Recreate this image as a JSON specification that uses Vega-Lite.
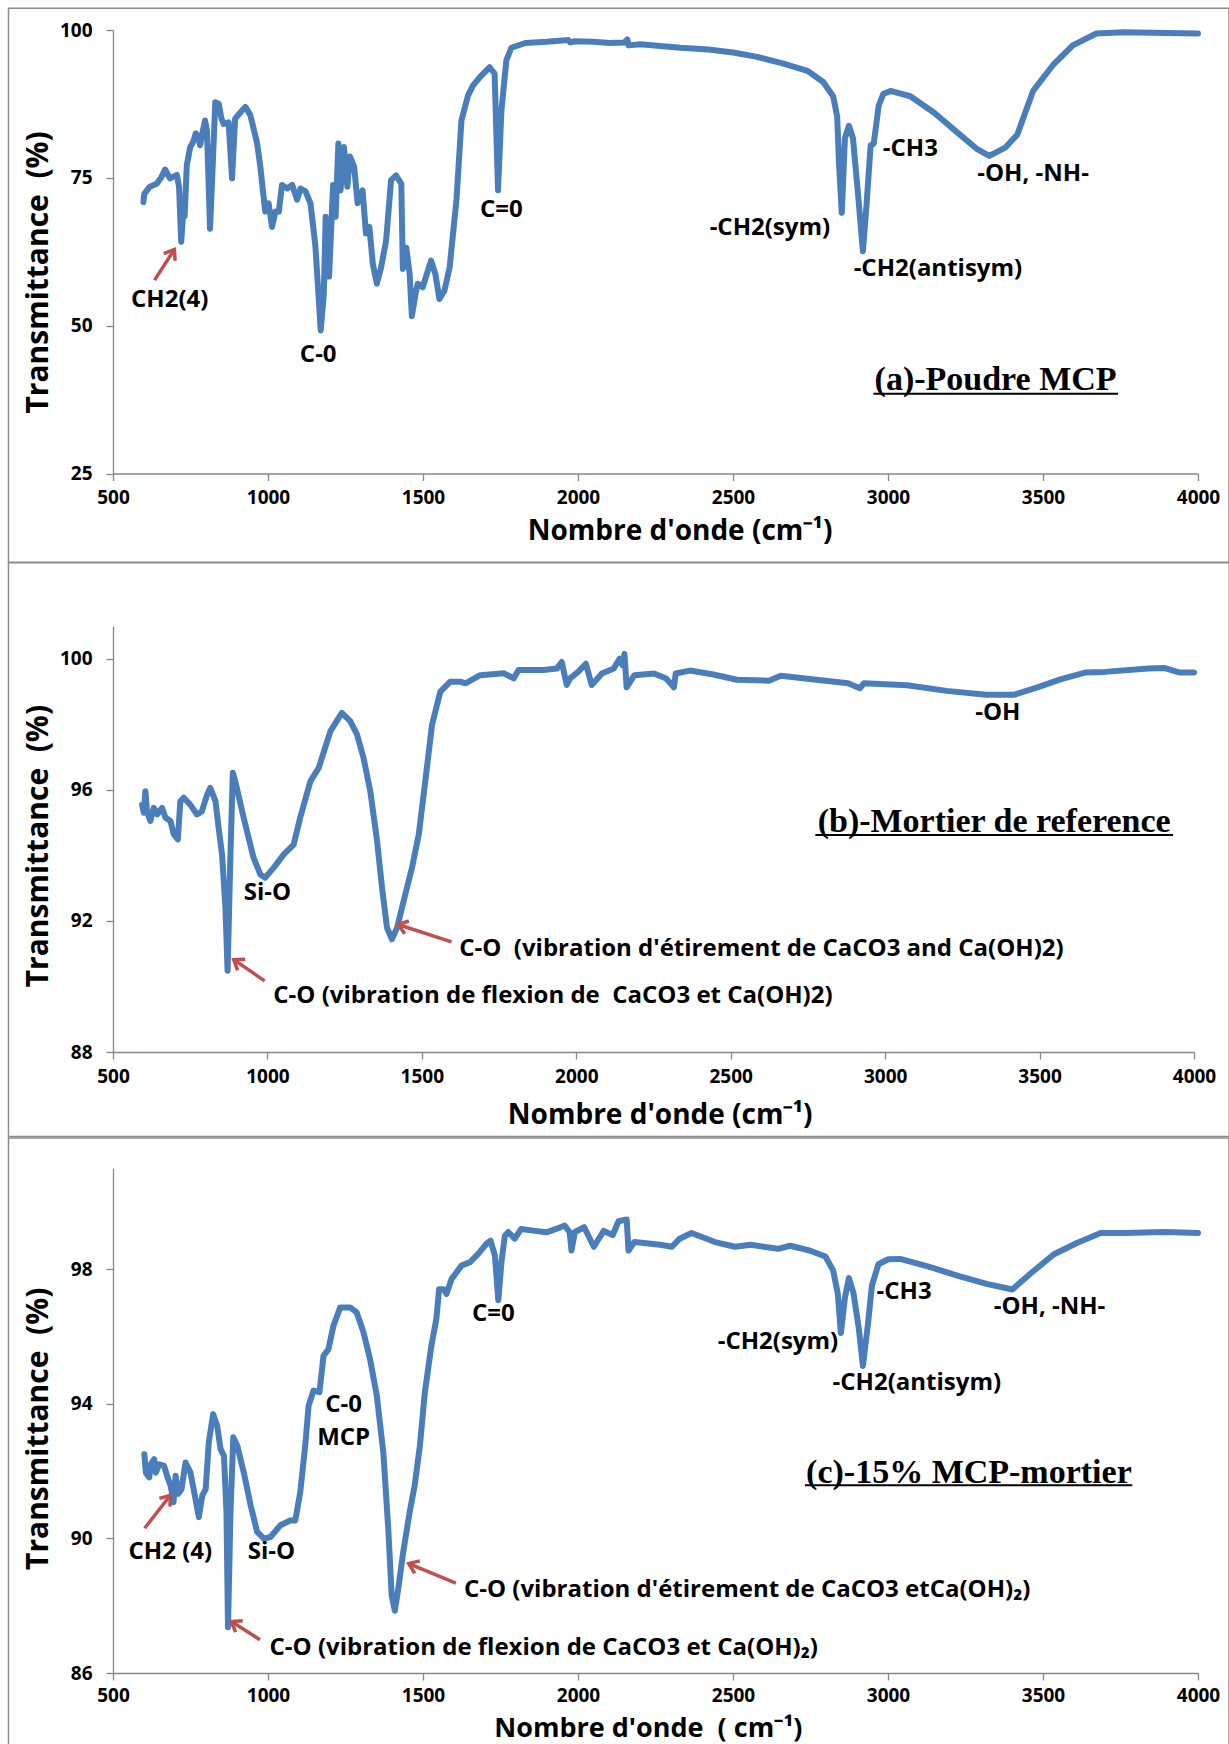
{
 "$schema": "https://vega.github.io/schema/vega-lite/v6.json",
 "padding": {"left": 7, "top": 7, "right": 0, "bottom": 0},
 "background": "white",
 "spacing": -1,
 "config": {
  "view": {"stroke": null},
  "font": "Open Sans",
  "axis": {"grid": false, "domainColor": "#878787", "tickColor": "#878787", "domainWidth": 1.3, "tickWidth": 1.3, "tickSize": 7, "labelFont": "Open Sans", "labelFontWeight": "bold", "labelFontSize": 19, "labelColor": "#000", "titleFont": "Open Sans", "titleFontWeight": "bold", "titleColor": "#000", "zindex": 1},
  "axisX": {"labelPadding": 8, "titleFontSize": 28, "titleBaseline": "middle", "titleAlign": "center", "labelFlush": false},
  "axisY": {"labelPadding": 14, "titleFontSize": 30, "titleBaseline": "middle", "titleAngle": -90, "titleAlign": "center"}
 },
 "datasets": {
  "a": [
   {"x":598,"y":70.9},{"x":601,"y":72.3},{"x":619,"y":73.5},{"x":641,"y":74.0},{"x":655,"y":75.0},{"x":668,"y":76.4},{"x":684,"y":74.9},{"x":706,"y":75.5},{"x":713,"y":73.5},{"x":720,"y":64.2},{"x":727,"y":69.5},{"x":731,"y":68.5},{"x":738,"y":77.1},{"x":749,"y":80.2},{"x":758,"y":81.0},{"x":767,"y":82.5},{"x":775,"y":82.0},{"x":781,"y":80.5},{"x":790,"y":83.0},{"x":797,"y":84.7},{"x":803,"y":83.0},{"x":813,"y":66.4},{"x":820,"y":75.0},{"x":830,"y":87.8},{"x":841,"y":87.5},{"x":850,"y":85.0},{"x":857,"y":84.1},{"x":873,"y":84.4},{"x":884,"y":74.9},{"x":894,"y":85.0},{"x":910,"y":86.0},{"x":927,"y":87.0},{"x":943,"y":85.6},{"x":965,"y":80.8},{"x":975,"y":77.0},{"x":981,"y":74.1},{"x":991,"y":69.3},{"x":1002,"y":70.7},{"x":1013,"y":66.7},{"x":1024,"y":69.3},{"x":1035,"y":69.3},{"x":1045,"y":73.8},{"x":1062,"y":73.2},{"x":1078,"y":73.8},{"x":1094,"y":71.3},{"x":1105,"y":73.2},{"x":1121,"y":72.7},{"x":1137,"y":70.7},{"x":1153,"y":63.4},{"x":1170,"y":49.2},{"x":1180,"y":55.4},{"x":1186,"y":68.4},{"x":1197,"y":58.3},{"x":1210,"y":73.8},{"x":1218,"y":68.4},{"x":1227,"y":80.8},{"x":1234,"y":72.9},{"x":1245,"y":80.2},{"x":1256,"y":73.5},{"x":1264,"y":78.6},{"x":1278,"y":76.9},{"x":1289,"y":70.7},{"x":1305,"y":72.9},{"x":1316,"y":65.6},{"x":1327,"y":66.7},{"x":1338,"y":60.5},{"x":1351,"y":57.1},{"x":1365,"y":59.9},{"x":1381,"y":64.4},{"x":1397,"y":74.6},{"x":1413,"y":75.4},{"x":1430,"y":74.0},{"x":1435,"y":59.6},{"x":1446,"y":63.2},{"x":1457,"y":58.7},{"x":1464,"y":51.6},{"x":1476,"y":55.4},{"x":1483,"y":57.1},{"x":1499,"y":56.5},{"x":1526,"y":61.0},{"x":1540,"y":58.7},{"x":1553,"y":54.5},{"x":1569,"y":55.9},{"x":1586,"y":59.9},{"x":1608,"y":71.3},{"x":1624,"y":84.7},{"x":1645,"y":88.9},{"x":1661,"y":90.6},{"x":1688,"y":92.3},{"x":1715,"y":93.7},{"x":1731,"y":92.6},{"x":1742,"y":72.9},{"x":1753,"y":86.4},{"x":1769,"y":94.9},{"x":1785,"y":97.0},{"x":1830,"y":97.8},{"x":1900,"y":98.0},{"x":1969,"y":98.3},{"x":1975,"y":97.9},{"x":1990,"y":98.1},{"x":2050,"y":98.0},{"x":2102,"y":97.8},{"x":2150,"y":97.9},{"x":2159,"y":98.4},{"x":2163,"y":97.4},{"x":2200,"y":97.6},{"x":2331,"y":97.0},{"x":2421,"y":96.7},{"x":2500,"y":96.2},{"x":2574,"y":95.5},{"x":2663,"y":94.3},{"x":2740,"y":93.1},{"x":2791,"y":91.2},{"x":2823,"y":88.8},{"x":2836,"y":85.4},{"x":2842,"y":77.4},{"x":2851,"y":69.1},{"x":2861,"y":81.7},{"x":2874,"y":83.8},{"x":2887,"y":81.7},{"x":2906,"y":70.6},{"x":2919,"y":62.6},{"x":2931,"y":70.6},{"x":2944,"y":80.5},{"x":2954,"y":80.8},{"x":2970,"y":87.2},{"x":2985,"y":89.2},{"x":3008,"y":89.7},{"x":3072,"y":88.8},{"x":3149,"y":86.0},{"x":3225,"y":82.6},{"x":3289,"y":79.8},{"x":3327,"y":78.7},{"x":3378,"y":80.1},{"x":3417,"y":82.3},{"x":3468,"y":89.7},{"x":3531,"y":94.0},{"x":3596,"y":97.4},{"x":3672,"y":99.4},{"x":3761,"y":99.6},{"x":3900,"y":99.5},{"x":4000,"y":99.4}
  ],
  "b": [
   {"x":594,"y":95.55},{"x":600,"y":95.3},{"x":605,"y":95.96},{"x":610,"y":95.35},{"x":621,"y":95.05},{"x":632,"y":95.45},{"x":643,"y":95.25},{"x":659,"y":95.45},{"x":670,"y":95.15},{"x":686,"y":95.05},{"x":697,"y":94.64},{"x":710,"y":94.49},{"x":718,"y":95.65},{"x":729,"y":95.76},{"x":750,"y":95.55},{"x":772,"y":95.25},{"x":788,"y":95.35},{"x":805,"y":95.86},{"x":815,"y":96.06},{"x":832,"y":95.65},{"x":842,"y":94.84},{"x":853,"y":94.03},{"x":864,"y":92.4},{"x":871,"y":90.48},{"x":880,"y":93.93},{"x":888,"y":96.52},{"x":896,"y":96.26},{"x":923,"y":95.15},{"x":955,"y":93.93},{"x":977,"y":93.42},{"x":993,"y":93.32},{"x":1020,"y":93.62},{"x":1053,"y":94.03},{"x":1085,"y":94.33},{"x":1106,"y":95.15},{"x":1139,"y":96.26},{"x":1166,"y":96.67},{"x":1204,"y":97.79},{"x":1241,"y":98.35},{"x":1268,"y":98.1},{"x":1290,"y":97.69},{"x":1311,"y":96.98},{"x":1333,"y":95.96},{"x":1355,"y":94.44},{"x":1371,"y":93.02},{"x":1387,"y":91.8},{"x":1403,"y":91.44},{"x":1420,"y":91.8},{"x":1441,"y":92.61},{"x":1468,"y":93.62},{"x":1490,"y":94.64},{"x":1511,"y":96.26},{"x":1533,"y":97.99},{"x":1560,"y":99.0},{"x":1592,"y":99.3},{"x":1625,"y":99.3},{"x":1641,"y":99.25},{"x":1689,"y":99.5},{"x":1765,"y":99.56},{"x":1797,"y":99.4},{"x":1813,"y":99.66},{"x":1894,"y":99.66},{"x":1937,"y":99.7},{"x":1953,"y":99.9},{"x":1969,"y":99.2},{"x":1980,"y":99.4},{"x":2006,"y":99.6},{"x":2031,"y":99.85},{"x":2050,"y":99.2},{"x":2083,"y":99.55},{"x":2121,"y":99.7},{"x":2140,"y":100.0},{"x":2150,"y":99.8},{"x":2156,"y":100.15},{"x":2163,"y":99.13},{"x":2188,"y":99.5},{"x":2252,"y":99.55},{"x":2291,"y":99.4},{"x":2316,"y":99.13},{"x":2322,"y":99.55},{"x":2368,"y":99.64},{"x":2444,"y":99.52},{"x":2520,"y":99.36},{"x":2624,"y":99.33},{"x":2662,"y":99.48},{"x":2777,"y":99.36},{"x":2880,"y":99.25},{"x":2918,"y":99.1},{"x":2931,"y":99.25},{"x":3071,"y":99.19},{"x":3199,"y":99.02},{"x":3327,"y":98.9},{"x":3417,"y":98.9},{"x":3493,"y":99.13},{"x":3570,"y":99.38},{"x":3647,"y":99.58},{"x":3711,"y":99.6},{"x":3852,"y":99.7},{"x":3903,"y":99.72},{"x":3954,"y":99.58},{"x":4000,"y":99.58}
  ],
  "c": [
   {"x":601,"y":92.5},{"x":606,"y":91.95},{"x":617,"y":91.81},{"x":622,"y":92.2},{"x":633,"y":92.35},{"x":638,"y":91.95},{"x":649,"y":92.2},{"x":665,"y":92.15},{"x":676,"y":91.81},{"x":686,"y":91.56},{"x":695,"y":91.07},{"x":702,"y":91.86},{"x":710,"y":91.32},{"x":721,"y":91.46},{"x":734,"y":92.25},{"x":750,"y":91.95},{"x":766,"y":91.17},{"x":777,"y":90.63},{"x":788,"y":91.27},{"x":799,"y":91.46},{"x":809,"y":92.85},{"x":823,"y":93.69},{"x":836,"y":93.34},{"x":847,"y":92.65},{"x":858,"y":92.45},{"x":866,"y":90.78},{"x":871,"y":87.36},{"x":879,"y":90.78},{"x":888,"y":93.0},{"x":901,"y":92.75},{"x":922,"y":91.95},{"x":944,"y":90.98},{"x":965,"y":90.19},{"x":987,"y":89.99},{"x":1008,"y":90.04},{"x":1040,"y":90.39},{"x":1072,"y":90.53},{"x":1088,"y":90.53},{"x":1104,"y":91.37},{"x":1120,"y":92.75},{"x":1131,"y":93.94},{"x":1147,"y":94.39},{"x":1166,"y":94.34},{"x":1179,"y":95.42},{"x":1195,"y":95.62},{"x":1211,"y":96.31},{"x":1233,"y":96.86},{"x":1265,"y":96.86},{"x":1286,"y":96.71},{"x":1308,"y":96.12},{"x":1329,"y":95.33},{"x":1351,"y":94.24},{"x":1372,"y":92.55},{"x":1388,"y":90.28},{"x":1399,"y":88.3},{"x":1409,"y":87.85},{"x":1420,"y":88.49},{"x":1436,"y":89.58},{"x":1457,"y":90.78},{"x":1473,"y":91.56},{"x":1490,"y":92.75},{"x":1506,"y":94.34},{"x":1527,"y":95.72},{"x":1543,"y":96.51},{"x":1552,"y":97.4},{"x":1567,"y":97.4},{"x":1576,"y":97.26},{"x":1592,"y":97.7},{"x":1624,"y":98.1},{"x":1651,"y":98.2},{"x":1678,"y":98.45},{"x":1705,"y":98.75},{"x":1718,"y":98.84},{"x":1732,"y":98.4},{"x":1743,"y":97.07},{"x":1753,"y":98.2},{"x":1764,"y":98.99},{"x":1775,"y":99.1},{"x":1796,"y":98.9},{"x":1817,"y":99.19},{"x":1855,"y":99.14},{"x":1898,"y":99.09},{"x":1930,"y":99.19},{"x":1957,"y":99.29},{"x":1973,"y":99.09},{"x":1979,"y":98.55},{"x":1990,"y":99.1},{"x":2020,"y":99.24},{"x":2051,"y":98.66},{"x":2083,"y":99.13},{"x":2112,"y":99.01},{"x":2128,"y":99.36},{"x":2131,"y":99.42},{"x":2157,"y":99.47},{"x":2163,"y":98.55},{"x":2182,"y":98.8},{"x":2265,"y":98.72},{"x":2303,"y":98.66},{"x":2328,"y":98.9},{"x":2366,"y":99.07},{"x":2442,"y":98.8},{"x":2506,"y":98.66},{"x":2557,"y":98.72},{"x":2645,"y":98.6},{"x":2684,"y":98.69},{"x":2747,"y":98.55},{"x":2798,"y":98.37},{"x":2823,"y":97.96},{"x":2838,"y":97.27},{"x":2848,"y":96.1},{"x":2861,"y":97.15},{"x":2874,"y":97.73},{"x":2889,"y":97.27},{"x":2906,"y":96.22},{"x":2919,"y":95.12},{"x":2935,"y":96.33},{"x":2948,"y":97.5},{"x":2969,"y":98.14},{"x":3001,"y":98.29},{"x":3039,"y":98.3},{"x":3128,"y":98.08},{"x":3229,"y":97.79},{"x":3318,"y":97.56},{"x":3401,"y":97.39},{"x":3458,"y":97.85},{"x":3534,"y":98.43},{"x":3611,"y":98.78},{"x":3686,"y":99.07},{"x":3763,"y":99.07},{"x":3890,"y":99.1},{"x":4000,"y":99.07}
  ]
 },
 "vconcat": [
  {
   "width": 1085, "height": 443.5,
   "layer": [
    {"data": {"name": "a"}, "mark": {"type": "line", "color": "#4A7EBB", "strokeWidth": 6, "strokeJoin": "round", "strokeCap": "round"},
     "encoding": {"x": {"field": "x", "type": "quantitative", "scale": {"domain": [500, 4000], "nice": false, "zero": false}, "axis": {"values": [500, 1000, 1500, 2000, 2500, 3000, 3500, 4000], "format": "d", "title": "Nombre d'onde (cm⁻¹)", "titleX": 566.5, "titleY": 57.6}},
      "y": {"field": "y", "type": "quantitative", "scale": {"domain": [25, 100], "nice": false, "zero": false}, "axis": {"values": [25, 50, 75, 100], "format": "d", "title": "Transmittance\u00a0 (%)", "titleX": -74.4, "titleY": 241.9}}}},
    {"data": {"values": [{}]}, "mark": {"type": "rect", "filled": false, "color": "#8c8c8c", "strokeWidth": 1.5, "clip": false},
     "encoding": {"x": {"datum": 162.9, "type": "quantitative"}, "x2": {"datum": 4100}, "y": {"datum": 103.69, "type": "quantitative"}, "y2": {"datum": 10.0}}},
    {"data": {"values": [{"x": 683, "y": 54.3, "t": "CH2(4)"}, {"x": 1162, "y": 45.1, "t": "C-0"}, {"x": 1753, "y": 69.6, "t": "C=0"}, {"x": 2619, "y": 66.6, "t": "-CH2(sym)"}, {"x": 3161, "y": 59.5, "t": "-CH2(antisym)"}, {"x": 3072, "y": 79.8, "t": "-CH3"}, {"x": 3468, "y": 75.6, "t": "-OH, -NH-"}]},
     "mark": {"type": "text", "align": "center", "baseline": "middle", "font": "Open Sans", "fontWeight": "bold", "fontSize": 24, "color": "#000"},
     "encoding": {"x": {"field": "x", "type": "quantitative"}, "y": {"field": "y", "type": "quantitative"}, "text": {"field": "t"}}},
    {"data": {"values": [{"x": 3347, "y": 40.8, "t": "(a)-Poudre MCP"}]},
     "mark": {"type": "text", "align": "center", "baseline": "middle", "font": "Liberation Serif", "fontSize": 34, "fontWeight": "bold", "color": "#000"},
     "encoding": {"x": {"field": "x", "type": "quantitative"}, "y": {"field": "y", "type": "quantitative"}, "text": {"field": "t"}}},
    {"data": {"values": [{"x": 2953, "x2": 3742, "y": 38.5}]},
     "mark": {"type": "rule", "color": "#000", "strokeWidth": 2},
     "encoding": {"x": {"field": "x", "type": "quantitative"}, "x2": {"field": "x2"}, "y": {"field": "y", "type": "quantitative"}}},
    {"data": {"values": [{"x": 634, "y": 57.7, "x2": 698, "y2": 62.9, "ang": 32.6}]},
     "mark": {"type": "rule", "color": "#C0504D", "strokeWidth": 3.5},
     "encoding": {"x": {"field": "x", "type": "quantitative"}, "x2": {"field": "x2"}, "y": {"field": "y", "type": "quantitative"}, "y2": {"field": "y2"}}},
    {"data": {"values": [{"x": 634, "y": 57.7, "x2": 698, "y2": 62.9, "ang": 32.6}]},
     "mark": {"type": "point", "shape": "M-0.8,1.1L0,0L0.8,1.1", "filled": false, "color": "#C0504D", "strokeWidth": 3.5, "size": 280, "opacity": 1},
     "encoding": {"x": {"field": "x2", "type": "quantitative"}, "y": {"field": "y2", "type": "quantitative"}, "angle": {"field": "ang", "type": "quantitative", "scale": null}}}
   ]
  },
  {
   "width": 1081, "height": 426,
   "layer": [
    {"data": {"name": "b"}, "mark": {"type": "line", "color": "#4A7EBB", "strokeWidth": 6, "strokeJoin": "round", "strokeCap": "round"},
     "encoding": {"x": {"field": "x", "type": "quantitative", "scale": {"domain": [500, 4000], "nice": false, "zero": false}, "axis": {"values": [500, 1000, 1500, 2000, 2500, 3000, 3500, 4000], "format": "d", "title": "Nombre d'onde (cm⁻¹)", "titleX": 546.7, "titleY": 63.7}},
      "y": {"field": "y", "type": "quantitative", "scale": {"domain": [88, 101], "nice": false, "zero": false}, "axis": {"values": [88, 92, 96, 100], "format": "d", "title": "Transmittance\u00a0 (%)", "titleX": -74.4, "titleY": 219.6}}}},
    {"data": {"values": [{}]}, "mark": {"type": "rect", "filled": false, "color": "#8c8c8c", "strokeWidth": 1.5, "clip": false},
     "encoding": {"x": {"datum": 161.6, "type": "quantitative"}, "x2": {"datum": 4114.3}, "y": {"datum": 102.93, "type": "quantitative"}, "y2": {"datum": 85.42}}},
    {"data": {"values": [{"x": 1000, "y": 92.85, "t": "Si-O"}, {"x": 3365, "y": 98.34, "t": "-OH"}]},
     "mark": {"type": "text", "align": "center", "baseline": "middle", "font": "Open Sans", "fontWeight": "bold", "fontSize": 24, "color": "#000"},
     "encoding": {"x": {"field": "x", "type": "quantitative"}, "y": {"field": "y", "type": "quantitative"}, "text": {"field": "t"}}},
    {"data": {"values": [{"x": 1621, "y": 91.13, "t": "C-O\u00a0 (vibration d'étirement de CaCO3 and Ca(OH)2)"}, {"x": 1019, "y": 89.72, "t": "C-O (vibration de flexion de\u00a0 CaCO3 et Ca(OH)2)"}]},
     "mark": {"type": "text", "align": "left", "baseline": "middle", "font": "Open Sans", "fontWeight": "bold", "fontSize": 24, "color": "#000"},
     "encoding": {"x": {"field": "x", "type": "quantitative"}, "y": {"field": "y", "type": "quantitative"}, "text": {"field": "t"}}},
    {"data": {"values": [{"x": 3353, "y": 95.02, "t": "(b)-Mortier de reference"}]},
     "mark": {"type": "text", "align": "center", "baseline": "middle", "font": "Liberation Serif", "fontSize": 34, "fontWeight": "bold", "color": "#000"},
     "encoding": {"x": {"field": "x", "type": "quantitative"}, "y": {"field": "y", "type": "quantitative"}, "text": {"field": "t"}}},
    {"data": {"values": [{"x": 2774, "x2": 3932, "y": 94.62}]},
     "mark": {"type": "rule", "color": "#000", "strokeWidth": 2},
     "encoding": {"x": {"field": "x", "type": "quantitative"}, "x2": {"field": "x2"}, "y": {"field": "y", "type": "quantitative"}}},
    {"data": {"values": [{"x": 991, "y": 90.17, "x2": 891, "y2": 90.82, "ang": -55.6}, {"x": 1596, "y": 91.36, "x2": 1423, "y2": 91.89, "ang": -71.95}]},
     "mark": {"type": "rule", "color": "#C0504D", "strokeWidth": 3.5},
     "encoding": {"x": {"field": "x", "type": "quantitative"}, "x2": {"field": "x2"}, "y": {"field": "y", "type": "quantitative"}, "y2": {"field": "y2"}}},
    {"data": {"values": [{"x": 991, "y": 90.17, "x2": 891, "y2": 90.82, "ang": -55.6}, {"x": 1596, "y": 91.36, "x2": 1423, "y2": 91.89, "ang": -71.95}]},
     "mark": {"type": "point", "shape": "M-0.8,1.1L0,0L0.8,1.1", "filled": false, "color": "#C0504D", "strokeWidth": 3.5, "size": 280, "opacity": 1},
     "encoding": {"x": {"field": "x2", "type": "quantitative"}, "y": {"field": "y2", "type": "quantitative"}, "angle": {"field": "ang", "type": "quantitative", "scale": null}}}
   ]
  },
  {
   "width": 1085, "height": 505,
   "layer": [
    {"data": {"name": "c"}, "mark": {"type": "line", "color": "#4A7EBB", "strokeWidth": 6, "strokeJoin": "round", "strokeCap": "round"},
     "encoding": {"x": {"field": "x", "type": "quantitative", "scale": {"domain": [500, 4000], "nice": false, "zero": false}, "axis": {"values": [500, 1000, 1500, 2000, 2500, 3000, 3500, 4000], "format": "d", "labelPadding": 6, "title": "Nombre d'onde\u00a0 ( cm⁻¹)", "titleFontSize": 27, "titleX": 534.9, "titleY": 55}},
      "y": {"field": "y", "type": "quantitative", "scale": {"domain": [86, 101], "nice": false, "zero": false}, "axis": {"values": [86, 90, 94, 98], "format": "d", "title": "Transmittance\u00a0 (%)", "titleX": -74.4, "titleY": 260.3}}}},
    {"data": {"values": [{}]}, "mark": {"type": "rect", "filled": false, "color": "#8c8c8c", "strokeWidth": 1.5, "clip": false},
     "encoding": {"x": {"datum": 162.9, "type": "quantitative"}, "x2": {"datum": 4100}, "y": {"datum": 101.89, "type": "quantitative"}, "y2": {"datum": 83.45}}},
    {"data": {"values": [{"x": 685, "y": 89.6, "t": "CH2 (4)"}, {"x": 1011, "y": 89.58, "t": "Si-O"}, {"x": 1244, "y": 93.96, "t": "C-0"}, {"x": 1244, "y": 92.97, "t": "MCP"}, {"x": 1727, "y": 96.66, "t": "C=0"}, {"x": 2645, "y": 95.82, "t": "-CH2(sym)"}, {"x": 3093, "y": 94.6, "t": "-CH2(antisym)"}, {"x": 3052, "y": 97.33, "t": "-CH3"}, {"x": 3521, "y": 96.88, "t": "-OH, -NH-"}]},
     "mark": {"type": "text", "align": "center", "baseline": "middle", "font": "Open Sans", "fontWeight": "bold", "fontSize": 24, "color": "#000"},
     "encoding": {"x": {"field": "x", "type": "quantitative"}, "y": {"field": "y", "type": "quantitative"}, "text": {"field": "t"}}},
    {"data": {"values": [{"x": 1632, "y": 88.46, "t": "C-O (vibration d'étirement de CaCO3 etCa(OH)₂)"}, {"x": 1005, "y": 86.75, "t": "C-O (vibration de flexion de CaCO3 et Ca(OH)₂)"}]},
     "mark": {"type": "text", "align": "left", "baseline": "middle", "font": "Open Sans", "fontWeight": "bold", "fontSize": 24, "color": "#000"},
     "encoding": {"x": {"field": "x", "type": "quantitative"}, "y": {"field": "y", "type": "quantitative"}, "text": {"field": "t"}}},
    {"data": {"values": [{"x": 3261, "y": 91.95, "t": "(c)-15% MCP-mortier"}]},
     "mark": {"type": "text", "align": "center", "baseline": "middle", "font": "Liberation Serif", "fontSize": 34, "fontWeight": "bold", "color": "#000"},
     "encoding": {"x": {"field": "x", "type": "quantitative"}, "y": {"field": "y", "type": "quantitative"}, "text": {"field": "t"}}},
    {"data": {"values": [{"x": 2732, "x2": 3788, "y": 91.58}]},
     "mark": {"type": "rule", "color": "#000", "strokeWidth": 2},
     "encoding": {"x": {"field": "x", "type": "quantitative"}, "x2": {"field": "x2"}, "y": {"field": "y", "type": "quantitative"}}},
    {"data": {"values": [{"x": 602, "y": 90.3, "x2": 685, "y2": 91.28, "ang": 37.7}, {"x": 974, "y": 86.99, "x2": 882, "y2": 87.53, "ang": -57.4}, {"x": 1606, "y": 88.67, "x2": 1454, "y2": 89.25, "ang": -67.5}]},
     "mark": {"type": "rule", "color": "#C0504D", "strokeWidth": 3.5},
     "encoding": {"x": {"field": "x", "type": "quantitative"}, "x2": {"field": "x2"}, "y": {"field": "y", "type": "quantitative"}, "y2": {"field": "y2"}}},
    {"data": {"values": [{"x": 602, "y": 90.3, "x2": 685, "y2": 91.28, "ang": 37.7}, {"x": 974, "y": 86.99, "x2": 882, "y2": 87.53, "ang": -57.4}, {"x": 1606, "y": 88.67, "x2": 1454, "y2": 89.25, "ang": -67.5}]},
     "mark": {"type": "point", "shape": "M-0.8,1.1L0,0L0.8,1.1", "filled": false, "color": "#C0504D", "strokeWidth": 3.5, "size": 280, "opacity": 1},
     "encoding": {"x": {"field": "x2", "type": "quantitative"}, "y": {"field": "y2", "type": "quantitative"}, "angle": {"field": "ang", "type": "quantitative", "scale": null}}}
   ]
  }
 ]
}
